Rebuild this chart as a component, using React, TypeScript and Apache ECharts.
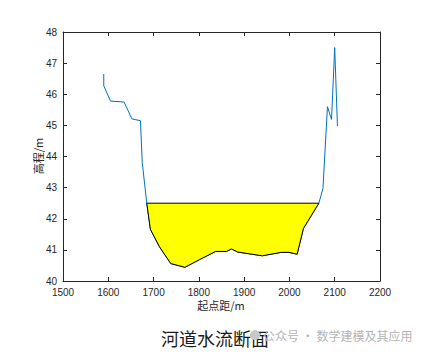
import React, { useEffect, useRef } from "react";
import * as echarts from "echarts";

// River bed profile (starting distance / elevation)
const profileX = [1590, 1590, 1605, 1635, 1652, 1671, 1675, 1685, 1693, 1713, 1738, 1769, 1802, 1837, 1861, 1872, 1886, 1940, 1982, 1999, 2017, 2031, 2065, 2074, 2084, 2093, 2100, 2106];
const profileY = [46.65, 46.27, 45.78, 45.75, 45.21, 45.15, 43.8, 42.5, 41.66, 41.1, 40.56, 40.44, 40.69, 40.95, 40.95, 41.03, 40.93, 40.81, 40.92, 40.92, 40.86, 41.69, 42.5, 42.97, 45.6, 45.19, 47.5, 44.98];

// Wetted section (water level 42.5 m)
const waterLevel = 42.5;
const waterX = [1685, 1693, 1713, 1738, 1769, 1802, 1837, 1861, 1872, 1886, 1940, 1982, 1999, 2017, 2031, 2065];
const waterY = [42.5, 41.66, 41.1, 40.56, 40.44, 40.69, 40.95, 40.95, 41.03, 40.93, 40.81, 40.92, 40.92, 40.86, 41.69, 42.5];

const xTicks = { min: 1500, max: 2200, interval: 100 };
const yTicks = { min: 40, max: 48, interval: 1 };

const titleText = "河道水流断面";
const xName = "起点距/m";
const yName = "高程/m";
const watermark = "公众号 · 数学建模及其应用";

export default function App() {
  const ref = useRef<HTMLDivElement>(null);
  useEffect(() => {
    if (!ref.current) return;
    const chart = echarts.init(ref.current, null, { renderer: "svg" });
    const axisColor = "#262626";
    const labelFont = { fontFamily: "Liberation Sans, Arial, sans-serif", fontSize: 10, color: axisColor };
    const baseX = {
      type: "value" as const,
      min: xTicks.min,
      max: xTicks.max,
      interval: xTicks.interval,
      splitLine: { show: false },
      axisLine: { show: true, onZero: false, lineStyle: { color: axisColor, width: 1 } },
      axisTick: { show: true, inside: true, length: 4, lineStyle: { color: axisColor } },
    };
    const baseY = {
      type: "value" as const,
      min: yTicks.min,
      max: yTicks.max,
      interval: yTicks.interval,
      splitLine: { show: false },
      axisLine: { show: true, onZero: false, lineStyle: { color: axisColor, width: 1 } },
      axisTick: { show: true, inside: true, length: 4, lineStyle: { color: axisColor } },
    };
    const profile = profileX.map((x, i) => [x, profileY[i]]);
    chart.setOption({
      animation: false,
      backgroundColor: "#ffffff",
      grid: { left: 63, right: 46, top: 32, bottom: 71, containLabel: false },
      xAxis: [
        { ...baseX, position: "bottom", axisLabel: { ...labelFont, margin: 6, formatter: (v: number) => String(v) } },
        { ...baseX, position: "top", axisLabel: { show: false } },
      ],
      yAxis: [
        { ...baseY, position: "left", axisLabel: { ...labelFont, margin: 6, formatter: (v: number) => String(v) } },
        { ...baseY, position: "right", axisLabel: { show: false } },
      ],
      series: [
        {
          type: "line",
          data: profile,
          xAxisIndex: 0,
          yAxisIndex: 0,
          showSymbol: false,
          symbol: "none",
          lineStyle: { color: "#0072BD", width: 1 },
          z: 2,
        },
        {
          type: "custom",
          xAxisIndex: 0,
          yAxisIndex: 0,
          data: [[waterX[0], waterLevel]],
          z: 3,
          renderItem: (params: any, api: any) => {
            const points = waterX.map((x, i) => api.coord([x, waterY[i]]));
            return {
              type: "polygon",
              shape: { points },
              style: { fill: "#ffff00", stroke: "#000000", lineWidth: 1 },
            };
          },
        },
      ],
      graphic: [
        {
          type: "text",
          x: 221,
          y: 305,
          style: { text: xName, fontSize: 11, fill: axisColor, fontFamily: "Noto Sans CJK SC, sans-serif", align: "center", verticalAlign: "middle" },
        },
        {
          type: "text",
          x: 38,
          y: 156,
          rotation: Math.PI / 2,
          style: { text: yName, fontSize: 11, fill: axisColor, fontFamily: "Noto Sans CJK SC, sans-serif", align: "center", verticalAlign: "middle" },
        },
        {
          type: "text",
          x: 215,
          y: 338,
          style: { text: titleText, fontSize: 18, fill: "#1a1a1a", fontFamily: "Noto Sans CJK SC, sans-serif", align: "center", verticalAlign: "middle" },
        },
        {
          type: "circle",
          shape: { cx: 255, cy: 335, r: 5 },
          style: { fill: "#c8c8c8" },
        },
        {
          type: "text",
          x: 263,
          y: 335,
          style: { text: watermark, fontSize: 12, fill: "#b4b4b4", fontFamily: "Noto Sans CJK SC, sans-serif", align: "left", verticalAlign: "middle" },
        },
      ],
    });
    return () => chart.dispose();
  }, []);
  return (
    <div
      ref={ref}
      style={{ position: "fixed", left: 0, top: 0, width: 426, height: 352, background: "#fff" }}
    />
  );
}
